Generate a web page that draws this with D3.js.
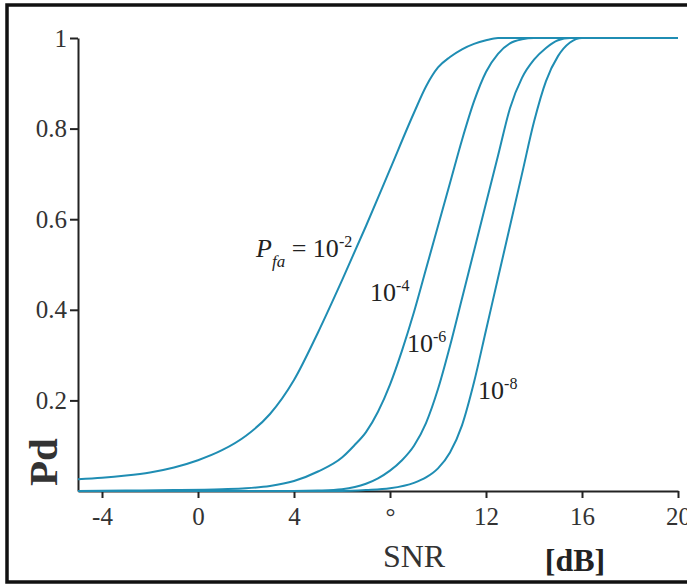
<!DOCTYPE html>
<html>
<head>
<meta charset="utf-8">
<script src="https://cdn.jsdelivr.net/npm/d3@7/dist/d3.min.js"></script>
<style>
body { margin: 0; background: #fff; }
</style>
</head>
<body>
<div id="chart"></div>
<script>
// Pd vs SNR curves, one per false alarm probability
var snrPfa2 = [-5,-4,-3,-2,-1,0,1,2,3,4,5,6,7,8,9,9.5,10,10.5,11,11.5,12,12.5,20];
var pdPfa2  = [0.026,0.029,0.034,0.041,0.052,0.068,0.09,0.122,0.17,0.245,0.35,0.465,0.585,0.71,0.835,0.893,0.935,0.958,0.975,0.987,0.995,1,1];

var snrPfa4 = [-5,-3,-1,1,2,3,4,5,6,6.5,7,7.5,8,8.5,9,9.5,10,10.5,11,11.5,12,12.5,13,13.5,14,20];
var pdPfa4  = [0,0.001,0.002,0.004,0.006,0.011,0.022,0.043,0.074,0.1,0.13,0.175,0.235,0.31,0.395,0.49,0.585,0.68,0.775,0.86,0.925,0.965,0.988,0.997,1,1];

var snrPfa6 = [-5,4,5,6,7,7.5,8,8.5,9,9.5,10,10.5,11,11.5,12,12.5,13,13.5,14,14.5,15,15.5,20];
var pdPfa6  = [0,0,0.001,0.004,0.016,0.028,0.045,0.068,0.1,0.15,0.225,0.32,0.425,0.53,0.635,0.74,0.845,0.912,0.952,0.978,0.995,1,1];

var snrPfa8 = [-5,6,7,8,9,9.5,10,10.5,11,11.5,12,12.5,13,13.5,14,14.5,15,15.5,16,20];
var pdPfa8  = [0,0,0.002,0.006,0.018,0.03,0.05,0.085,0.145,0.24,0.355,0.47,0.585,0.70,0.815,0.905,0.96,0.99,1,1];

var xTicks = [-4,0,4,8,12,16,20];
var xTickLabels = ["-4","0","4","\u00b0","12","16","20"];
var yTicks = [0.2,0.4,0.6,0.8,1];
var yTickLabels = ["0.2","0.4","0.6","0.8","1"];

var width = 687;
var height = 587;
var font = "'Liberation Serif', 'Times New Roman', serif";
var lineColor = "#1f8db3";

var svg = d3.select("#chart")
	.append("svg")
	.attr("width", width)
	.attr("height", height);

// frame (right edge runs off the picture)
svg.append("rect")
	.attr("x", 7)
	.attr("y", 5)
	.attr("width", 700)
	.attr("height", 577)
	.attr("fill", "none")
	.attr("stroke", "#111")
	.attr("stroke-width", 3.5);

var x = d3.scaleLinear().domain([-5, 20]).range([78, 678]);
var y = d3.scaleLinear().domain([0, 1]).range([491, 38]);

var xAxis = d3.axisBottom(x)
	.tickValues(xTicks)
	.tickFormat(function(d, i) { return xTickLabels[i]; })
	.tickSize(7)
	.tickSizeOuter(0)
	.tickPadding(9);

var yAxis = d3.axisLeft(y)
	.tickValues(yTicks)
	.tickFormat(function(d, i) { return yTickLabels[i]; })
	.tickSize(8)
	.tickSizeOuter(0)
	.tickPadding(3);

var gx = svg.append("g")
	.attr("transform", "translate(0," + y(0) + ")")
	.call(xAxis);

var gy = svg.append("g")
	.attr("transform", "translate(" + x(-5) + ",0)")
	.call(yAxis);

[gx, gy].forEach(function(g) {
	g.select(".domain").attr("stroke", "#222").attr("stroke-width", 2);
	g.selectAll(".tick line").attr("stroke", "#222").attr("stroke-width", 2);
	g.selectAll(".tick text")
		.attr("fill", "#333")
		.style("font-family", font)
		.style("font-size", "25px");
});

// curves
var series = [
	{snr: snrPfa2, pd: pdPfa2},
	{snr: snrPfa4, pd: pdPfa4},
	{snr: snrPfa6, pd: pdPfa6},
	{snr: snrPfa8, pd: pdPfa8}
];

var line = d3.line()
	.x(function(d) { return x(d[0]); })
	.y(function(d) { return y(d[1]); })
	.curve(d3.curveMonotoneX);

series.forEach(function(s) {
	var pts = s.snr.map(function(v, i) { return [v, s.pd[i]]; });
	svg.append("path")
		.attr("d", line(pts))
		.attr("fill", "none")
		.attr("stroke", lineColor)
		.attr("stroke-width", 2);
});

// curve labels
var lab = svg.append("g")
	.style("font-family", font)
	.attr("fill", "#222");

var t1 = lab.append("text")
	.attr("x", x(2.42))
	.attr("y", y(0.517))
	.style("font-size", "26px");
t1.append("tspan").style("font-style", "italic").text("P");
t1.append("tspan").style("font-style", "italic").style("font-size", "17px").attr("dy", 10).text("fa");
t1.append("tspan").attr("dy", -10).text(" = 10");
t1.append("tspan").style("font-size", "16px").attr("dy", -10).text("-2");

var others = [
	{exp: "-4", snr: 7.17, pd: 0.42},
	{exp: "-6", snr: 8.71, pd: 0.307},
	{exp: "-8", snr: 11.67, pd: 0.203}
];

others.forEach(function(o) {
	var t = lab.append("text")
		.attr("x", x(o.snr))
		.attr("y", y(o.pd))
		.style("font-size", "26px");
	t.append("tspan").text("10");
	t.append("tspan").style("font-size", "16px").attr("dy", -10).text(o.exp);
});

// axis titles
svg.append("text")
	.attr("x", 414)
	.attr("y", 567)
	.attr("text-anchor", "middle")
	.attr("fill", "#333")
	.style("font-family", font)
	.style("font-size", "32px")
	.text("SNR");

svg.append("text")
	.attr("x", 575)
	.attr("y", 571)
	.attr("text-anchor", "middle")
	.attr("fill", "#222")
	.style("font-family", font)
	.style("font-size", "32px")
	.style("font-weight", "bold")
	.text("[dB]");

svg.append("text")
	.attr("transform", "translate(57,462) rotate(-90)")
	.attr("text-anchor", "middle")
	.attr("fill", "#333")
	.style("font-family", font)
	.style("font-size", "41px")
	.style("font-weight", "bold")
	.text("Pd");
</script>
</body>
</html>
